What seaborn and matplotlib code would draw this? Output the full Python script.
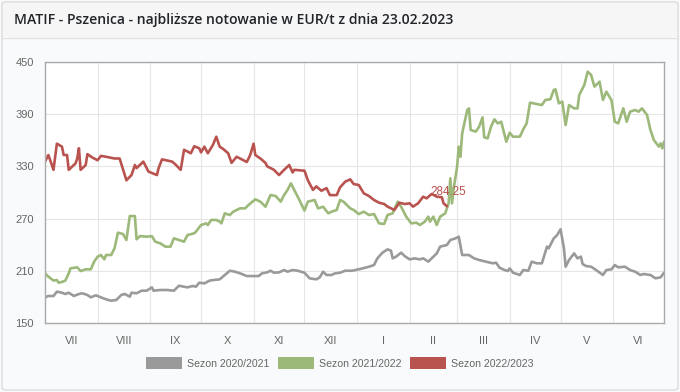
import numpy as np
import pandas as pd
import matplotlib
matplotlib.use("Agg")
import matplotlib.pyplot as plt
import seaborn as sns
from matplotlib.patches import Patch, FancyBboxPatch
from matplotlib.lines import Line2D

# ---------------- data ----------------
month_labels = ["VII", "VIII", "IX", "X", "XI", "XII", "I", "II", "III", "IV", "V", "VI"]
month_starts = [0, 31, 62, 92, 123, 153, 184, 215, 243, 274, 304, 335, 365]

s2020_days = [0, 2, 5, 7, 10, 12, 14, 17, 20, 22, 25, 27, 30, 32, 36, 39, 42, 45, 47, 50,
              51, 54, 57, 60, 63, 64, 68, 72, 76, 79, 82, 84, 87, 89, 91, 94, 97, 99, 103, 106,
              109, 112, 115, 119, 123, 126, 128, 131, 133, 135, 138, 141, 143, 146, 149, 153, 156, 160, 162, 164,
              166, 169, 171, 174, 177, 181, 185, 189, 191, 194, 196, 199, 202, 204, 205, 207, 210, 212, 215, 218,
              221, 223, 226, 229, 231, 233, 237, 239, 242, 244, 246, 250, 253, 256, 260, 264, 266, 268, 271, 273,
              274, 276, 280, 282, 285, 287, 290, 293, 296, 297, 300, 302, 304, 306, 307, 309, 312, 314, 316, 317,
              319, 322, 325, 329, 331, 334, 336, 338, 342, 345, 348, 351, 353, 357, 360, 363, 365]
s2020_vals = [179.8, 181.3, 181.3, 186.3, 185.1, 183.6, 185.1, 181.3, 183.6, 184.4, 182.5, 179.8, 182.1, 180.5, 177.5, 175.9, 176.7, 182.5, 183.6, 180.5,
              185.1, 184.4, 187.4, 187.4, 191.2, 187.4, 188.2, 188.2, 187.4, 193.1, 192.0, 191.2, 192.8, 192.0, 196.6, 195.8, 198.9, 199.6, 200.4, 205.4,
              210.3, 209.2, 207.3, 204.2, 204.2, 204.2, 207.3, 208.4, 210.3, 208.0, 208.4, 211.1, 209.2, 211.1, 210.3, 208.0, 201.6, 200.4, 202.7, 209.2,
              205.4, 205.4, 207.3, 208.0, 210.3, 210.3, 211.9, 213.8, 214.9, 216.8, 224.5, 231.0, 234.8, 233.3, 224.5, 226.4, 231.0, 227.2, 223.3, 224.5,
              223.3, 224.5, 220.7, 226.4, 230.2, 237.9, 239.8, 245.5, 247.4, 249.3, 228.3, 228.3, 224.5, 222.6, 220.7, 218.8, 219.5, 213.8, 211.1, 210.0,
              213.0, 208.0, 205.4, 211.1, 210.3, 220.7, 218.8, 218.8, 237.9, 236.0, 247.4, 251.2, 257.8, 236.0, 214.9, 222.6, 230.2, 224.5, 226.4, 218.0,
              215.7, 214.9, 211.1, 205.4, 211.1, 211.9, 216.8, 214.2, 214.9, 211.1, 209.2, 205.4, 206.5, 205.4, 201.6, 202.7, 208.0]

s2021_days = [0, 2, 5, 7, 8, 10, 12, 14, 15, 19, 21, 24, 27, 29, 31, 33, 35, 36, 39, 41,
              43, 46, 48, 50, 53, 54, 56, 60, 63, 65, 68, 71, 74, 76, 79, 82, 84, 88, 89, 92,
              95, 96, 98, 101, 103, 104, 106, 109, 111, 115, 118, 120, 124, 127, 130, 133, 136, 139, 141, 143,
              145, 147, 150, 153, 155, 159, 161, 164, 167, 169, 172, 174, 176, 180, 182, 185, 188, 191, 194, 197,
              200, 202, 205, 208, 210, 213, 216, 219, 221, 224, 226, 227, 229, 231, 233, 236, 238, 239, 240, 241,
              243, 244, 245, 246, 249, 250, 251, 254, 256, 258, 259, 261, 263, 265, 267, 269, 270, 272, 274, 276,
              280, 282, 284, 286, 290, 293, 295, 298, 300, 301, 303, 305, 307, 309, 312, 314, 315, 318, 320, 322,
              324, 327, 329, 331, 334, 336, 338, 341, 343, 345, 348, 350, 352, 355, 357, 359, 362, 363, 364, 365]
s2021_vals = [207.3, 203.5, 199.0, 199.6, 196.6, 197.4, 199.0, 207.3, 213.0, 214.2, 210.0, 211.9, 211.9, 220.7, 226.4, 228.3, 223.4, 228.3, 228.3, 236.0,
              253.9, 252.4, 245.5, 273.0, 273.0, 246.3, 250.0, 249.3, 250.0, 243.6, 241.7, 237.9, 237.9, 247.4, 245.5, 243.6, 251.2, 253.2, 255.1, 262.7,
              264.6, 262.7, 268.5, 268.5, 266.6, 264.6, 276.1, 274.2, 278.0, 281.8, 281.8, 285.7, 292.2, 289.5, 283.7, 297.1, 296.0, 289.5, 297.1, 302.9,
              310.5, 302.9, 291.4, 279.2, 289.5, 291.4, 281.8, 283.7, 276.1, 278.0, 280.0, 291.4, 289.5, 281.8, 280.0, 275.3, 278.0, 274.2, 275.3, 264.6,
              263.9, 274.2, 276.1, 289.5, 283.7, 272.3, 264.6, 265.4, 262.7, 266.6, 272.3, 266.6, 272.3, 262.7, 272.3, 276.1, 287.6, 316.2, 287.6, 304.8,
              329.6, 352.6, 341.0, 367.9, 394.6, 396.5, 371.7, 369.8, 375.5, 386.2, 363.3, 362.1, 375.5, 383.9, 379.3, 381.2, 373.6, 358.3, 368.6, 364.0,
              364.0, 372.4, 379.3, 403.0, 401.5, 400.3, 406.1, 406.9, 417.6, 418.3, 402.3, 404.2, 377.4, 400.3, 396.5, 396.5, 411.8, 423.3, 438.6, 434.8,
              421.4, 427.1, 406.1, 415.6, 406.1, 381.2, 379.3, 396.5, 381.2, 392.7, 394.6, 392.7, 396.5, 388.9, 371.7, 360.2, 352.6, 356.4, 350.6, 358.3]

s2022_days = [0, 2, 5, 7, 10, 11, 13, 14, 18, 19, 20, 21, 24, 25, 28, 31, 33, 36, 41, 44,
              48, 51, 53, 54, 58, 61, 66, 67, 69, 75, 77, 80, 82, 86, 88, 91, 92, 94, 96, 99,
              101, 103, 105, 108, 110, 113, 117, 119, 121, 123, 124, 127, 130, 131, 135, 138, 141, 144, 146, 147,
              153, 155, 158, 160, 163, 166, 168, 172, 174, 177, 180, 182, 185, 188, 191, 194, 197, 200, 202, 206,
              209, 212, 215, 217, 220, 223, 225, 228, 231, 234, 235, 237]
s2022_vals = [335.4, 343.0, 326.0, 356.0, 352.6, 343.0, 343.0, 326.0, 333.4, 339.0, 350.7, 326.0, 331.5, 344.0, 340.0, 337.0, 342.0, 341.0, 339.0, 339.0,
              314.0, 320.0, 331.5, 328.0, 335.4, 324.0, 320.0, 328.0, 338.0, 335.4, 332.0, 326.0, 349.0, 345.0, 353.0, 350.7, 346.0, 352.6, 345.0, 354.5,
              364.0, 352.6, 350.0, 345.0, 334.0, 341.0, 337.0, 335.0, 343.0, 356.0, 343.0, 339.0, 334.0, 330.0, 326.0, 320.0, 326.0, 331.5, 323.0, 326.0,
              325.0, 314.0, 303.0, 307.0, 302.0, 305.0, 297.0, 297.0, 306.0, 312.4, 315.1, 309.7, 308.6, 299.0, 296.0, 291.4, 288.3, 286.8, 283.8, 280.0,
              288.3, 286.8, 287.6, 283.8, 287.6, 295.2, 293.3, 298.3, 295.2, 294.5, 287.6, 284.25]

season_names = ["Sezon 2020/2021", "Sezon 2021/2022", "Sezon 2022/2023"]
season_colors = ["#9a9a9a", "#9cb97a", "#b9534f"]
y_ticks = [150, 210, 270, 330, 390, 450]

# ---------------- build table ----------------
frames = []
for name, d, v in zip(season_names, [s2020_days, s2021_days, s2022_days],
                      [s2020_vals, s2021_vals, s2022_vals]):
    frames.append(pd.DataFrame({"day": d, "price": v, "season": name}))
df = pd.concat(frames, ignore_index=True)

# ---------------- figure ----------------
sns.set_theme(style="white")
plt.rcParams["font.family"] = ["Liberation Sans", "DejaVu Sans"]

W, H = 680, 392
fig = plt.figure(figsize=(W / 100, H / 100), dpi=100)
fig.patch.set_facecolor("#f8f9fa")

# card border + header
fig.add_artist(FancyBboxPatch((2 / W, 2 / H), (W - 4) / W, (H - 4) / H,
                              boxstyle="round,pad=0,rounding_size=0.006",
                              transform=fig.transFigure, facecolor="#f9fafb",
                              edgecolor="#dcdcdc", linewidth=1.0, zorder=0))
fig.add_artist(FancyBboxPatch((3 / W, 1 - 37 / H), (W - 6) / W, 34 / H,
                              boxstyle="square,pad=0", transform=fig.transFigure,
                              facecolor="#f6f6f6", edgecolor="none", zorder=0))
fig.add_artist(Line2D([2 / W, 1 - 2 / W], [1 - 37.5 / H, 1 - 37.5 / H],
                      transform=fig.transFigure, color="#e2e2e2", linewidth=1.0))

fig.text(14 / W, 1 - 20 / H, "MATIF - Pszenica - najbliższe notowanie w EUR/t z dnia 23.02.2023",
         ha="left", va="center", fontsize=10.1, color="#212529",
         family=["Open Sans", "DejaVu Sans"], fontweight="semibold")

ax = fig.add_axes([45 / W, 1 - 323.3 / H, (664 - 45) / W, (323.3 - 61.7) / H])
ax.set_facecolor("white")

sns.lineplot(data=df, x="day", y="price", hue="season", hue_order=season_names,
             palette=season_colors, linewidth=1.9, ax=ax, legend=False, sort=True)

ax.set_xlim(month_starts[0], month_starts[-1])
ax.set_ylim(y_ticks[0], y_ticks[-1])
ax.set_yticks(y_ticks)
ax.set_yticklabels([str(t) for t in y_ticks])

centers = [(a + b) / 2 for a, b in zip(month_starts[:-1], month_starts[1:])]
ax.set_xticks(centers)
ax.set_xticklabels(month_labels)
ax.set_xticks(month_starts, minor=True)

ax.grid(True, axis="y", which="major", color="#e6e6e6", linewidth=0.8)
ax.grid(True, axis="x", which="minor", color="#e6e6e6", linewidth=0.8)
ax.grid(False, axis="x", which="major")
ax.set_axisbelow(True)

ax.tick_params(axis="x", which="major", length=0, pad=9, labelsize=8.0, labelcolor="#666666")
ax.tick_params(axis="x", which="minor", length=7, width=0.8, color="#dddddd", direction="out")
ax.tick_params(axis="y", which="major", length=5, width=0.8, color="#bbbbbb", pad=3,
               labelsize=8.0, labelcolor="#666666")

for sp in ax.spines.values():
    sp.set_color("#aaaaaa")
    sp.set_linewidth(1.0)

ax.set_xlabel("")
ax.set_ylabel("")

# last value label
last_day, last_val = s2022_days[-1], s2022_vals[-1]
ax.annotate(f"{last_val:.2f}", xy=(last_day, last_val), xytext=(1, 10.5),
            textcoords="offset points", ha="center", va="center",
            fontsize=8.4, color="#b9534f")

# legend
handles = [Patch(facecolor=c, edgecolor="none") for c in season_colors]
fig.legend(handles, season_names, loc="center", bbox_to_anchor=(0.5, 1 - 363 / H),
           ncol=3, frameon=False, fontsize=7.6, labelcolor="#666666",
           handlelength=3.4, handleheight=1.25, handletextpad=0.5, columnspacing=0.8)

fig.savefig("out.png", dpi=100, facecolor=fig.get_facecolor())
